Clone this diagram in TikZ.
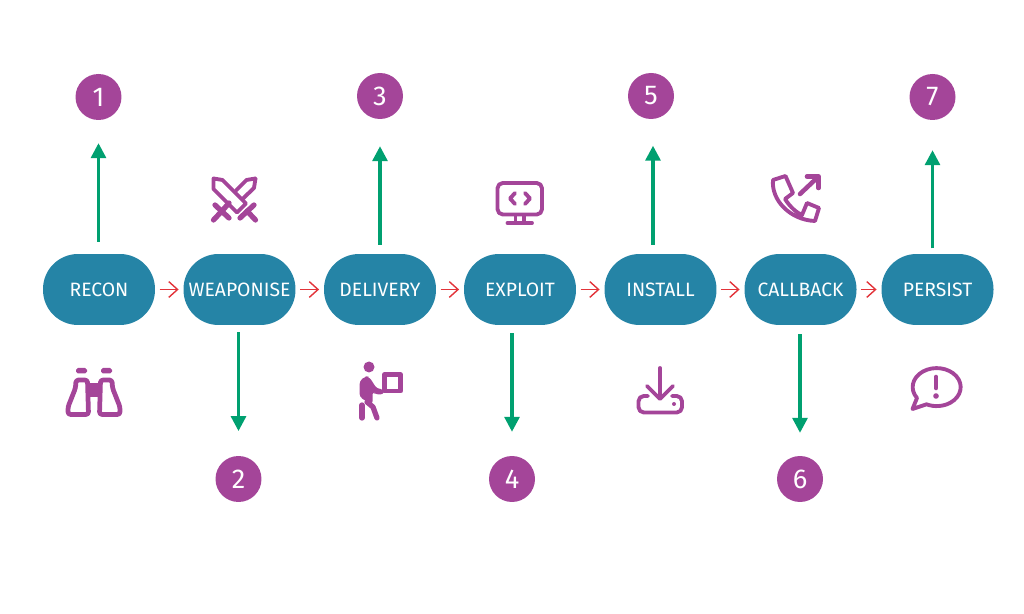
\documentclass[tikz,border=0pt]{standalone}
\usepackage{fontspec}
\setmainfont{Fira Sans}
\usepackage{tikz}
\usetikzlibrary{arrows.meta}
\definecolor{stagecol}{HTML}{2584A6}
\definecolor{numcol}{HTML}{A44599}
\definecolor{upcol}{HTML}{00A070}
\definecolor{flowcol}{HTML}{E2343A}
\tikzset{
  stage/.style={fill=stagecol,text=white,rounded corners=0.7cm,minimum width=2.24cm,minimum height=1.42cm,inner sep=0pt,font=\fontsize{11}{13}\selectfont},
  num/.style={circle,fill=numcol,text=white,minimum size=0.92cm,inner sep=0pt,font=\fontsize{15.5}{18}\selectfont},
  flow/.style={draw=flowcol,line width=0.8pt,-{Straight Barb[length=5pt,width=9pt]},shorten <=2.4pt,shorten >=2.6pt},
  link/.style={draw=upcol,line width=1.8pt,-{Triangle[length=8.5pt,width=8.5pt]}},
  iconline/.style={draw=numcol,line width=2.2pt,line join=round,line cap=round},
  iconfill/.style={fill=numcol}
}
\begin{document}
\begin{tikzpicture}[x=0.02cm,y=-0.02cm,>=Stealth,line join=round]
  \useasboundingbox (0,0) rectangle (1024,614);
  \node[stage] (recon) at (99,289.5) {RECON};
  \node[stage] (weaponise) at (239.5,289.5) {WEAPONISE};
  \node[stage] (delivery) at (380,289.5) {DELIVERY};
  \node[stage] (exploit) at (520,289.5) {EXPLOIT};
  \node[stage] (install) at (660.5,289.5) {INSTALL};
  \node[stage] (callback) at (800.5,289.5) {CALLBACK};
  \node[stage] (persist) at (937.5,289.5) {PERSIST};
  \node[num] (n1) at (98.5,97) {1};
  \node[num] (n2) at (238.5,479) {2};
  \node[num] (n3) at (380,96) {3};
  \node[num] (n4) at (512,479) {4};
  \node[num] (n5) at (651,96) {5};
  \node[num] (n6) at (800,479) {6};
  \node[num] (n7) at (932.5,97) {7};
  \coordinate (up5) at (653,96);
  \draw[flow] (recon) -- (weaponise);
  \draw[flow] (weaponise) -- (delivery);
  \draw[flow] (delivery) -- (exploit);
  \draw[flow] (exploit) -- (install);
  \draw[flow] (install) -- (callback);
  \draw[flow] (callback) -- (persist);
  \draw[link,shorten <=6.8pt,shorten >=13pt] (recon.north -| n1) -- (n1);
  \draw[link,shorten <=4pt,shorten >=14pt] (weaponise.south -| n2) -- (n2);
  \draw[link,shorten <=5pt,shorten >=15.3pt] (delivery.north -| n3) -- (n3);
  \draw[link,shorten <=4.5pt,shorten >=13.6pt] (exploit.south -| n4) -- (n4);
  \draw[link,shorten <=5pt,shorten >=28.3pt] (install.north -| up5) -- (up5);
  \draw[link,shorten <=5pt,shorten >=13pt] (callback.south -| n6) -- (n6);
  \draw[link,shorten <=3pt,shorten >=17pt] (persist.north -| n7) -- (n7);
  \draw[iconline] (213.5,178.5) -- (222.5,180) -- (246,203.5) -- (237,212.5) -- (213.5,189) -- cycle;
  \draw[iconline,line width=3pt] (240,218) -- (254,205);
  \draw[iconline,line width=3pt] (247,211) -- (255.5,220);
  \draw[iconline] (255.5,178.5) -- (246.5,180) -- (236,190.5);
  \draw[iconline] (255.5,178.5) -- (254,188) -- (243,198.5);
  \draw[iconline,line width=3pt] (229,218) -- (215,205);
  \draw[iconline,line width=3pt] (222,211) -- (213.5,220);
  \draw[iconline,line width=3pt] (222,211) -- (229,203);
  \draw[iconline,line width=2.7pt,rounded corners=1.5pt] (68,414.5) -- (68,407) -- (75.5,388) -- (76,380) -- (87.5,380) -- (88.5,414.5) -- cycle;
  \draw[iconline,line width=2.7pt,rounded corners=1.5pt] (120,414.5) -- (120,407) -- (112.5,388) -- (112,380) -- (100.5,380) -- (99.5,414.5) -- cycle;
  \fill[iconfill,rounded corners=1pt] (76,368) rectangle (87,373.5);
  \fill[iconfill,rounded corners=1pt] (101,368) rectangle (112,373.5);
  \fill[iconfill] (87,383) rectangle (101,397);
  \fill[iconfill] (369,367) circle (5.5);
  \draw[iconline,line cap=butt,line width=2.8pt] (384.5,374.7) rectangle (400.5,391);
  \fill[iconfill,rounded corners=2pt] (359.5,381) -- (365,376.5) -- (369,376.5) -- (377,389) -- (384,389) -- (384,394.5) -- (375,394.5) -- (372.5,391) -- (372.5,405) -- (359.5,397) -- cycle;
  \draw[iconline,line width=3pt] (362,405) -- (362,418);
  \draw[iconline,line width=3pt] (367,402) -- (373,407) -- (377,418);
  \draw[iconline,rounded corners=3pt] (497.5,183) rectangle (542,214.5);
  \draw[iconline,line cap=butt] (515.5,215) -- (515.5,222) (524,215) -- (524,222);
  \draw[iconline] (507.5,223) -- (532,223);
  \draw[iconline] (515,193) -- (510,198.5) -- (515,204);
  \draw[iconline] (525,193) -- (530,198.5) -- (525,204);
  \draw[iconline] (773,180) -- (785.5,176) -- (793,193) -- (785,199) .. controls (790,207) and (797,213) .. (802,215) -- (807,203) -- (819,208) -- (815,221) .. controls (790,220) and (771,200) .. (773,180) -- cycle;
  \draw[iconline,line width=2.6pt] (800,194) -- (818,177);
  \draw[iconline,line width=2.6pt] (807,176.5) -- (818.5,176.5) -- (818.5,188);
  \draw[iconline] (660,368) -- (660,398);
  \draw[iconline] (647,386) -- (660,399) -- (673,386);
  \draw[iconline,rounded corners=3pt] (648,396) -- (638.5,396) -- (638.5,412.5) -- (682,412.5) -- (682,396) -- (672,396);
  \fill[iconfill] (674,404) circle (2);
  \draw[iconline] (912.5,409) -- (917,398) arc[start angle=145,end angle=475,x radius=24,y radius=19] -- cycle;
  \draw[iconline,line width=2.6pt] (936,377) -- (936,388);
  \fill[iconfill] (936,396) circle (2.8);
\end{tikzpicture}
\end{document}
